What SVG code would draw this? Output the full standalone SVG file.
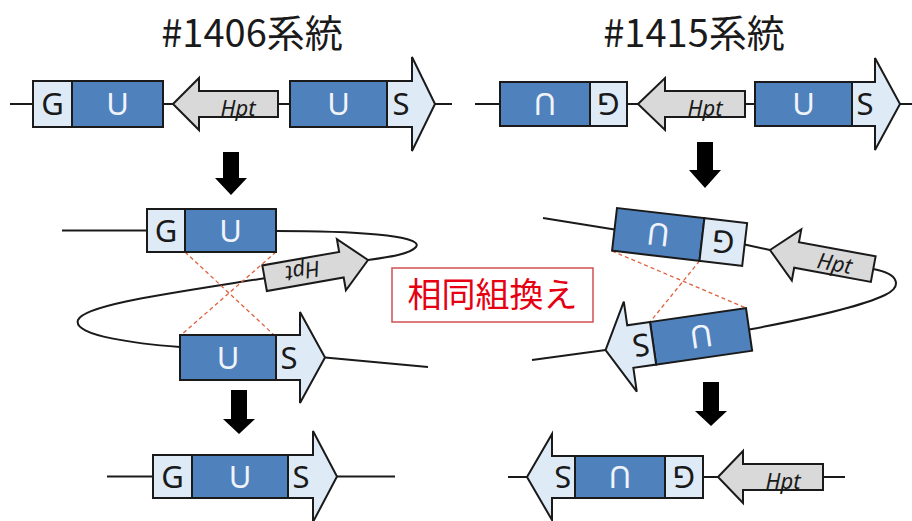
<svg xmlns="http://www.w3.org/2000/svg" width="912" height="521" viewBox="0 0 912 521">
<style>
.u{fill:#4f81bd;stroke:#1a1a1a;stroke-width:2}
.lb{fill:#deebf7;stroke:#1a1a1a;stroke-width:2}
.hp{fill:#d9d9d9;stroke:#1a1a1a;stroke-width:2}
.ln{fill:none;stroke:#1a1a1a;stroke-width:2}
.da{fill:none;stroke:#e0603c;stroke-width:1.3;stroke-dasharray:4 3}
.ar{fill:#000}
.tw{font-family:"Noto Sans","Liberation Sans",sans-serif;font-size:31px;fill:#f0f4fa;text-anchor:middle}
.tk{font-family:"Noto Sans","Liberation Sans",sans-serif;font-size:31px;fill:#1a1a1a;text-anchor:middle}
.th{font-family:"Noto Sans","Liberation Sans",sans-serif;font-size:22px;font-style:italic;fill:#1a1a1a;text-anchor:middle}
.tt{font-family:"Noto Sans CJK JP","Noto Sans",sans-serif;font-size:38px;fill:#1a1a1a;text-anchor:middle}
.tr{font-family:"Noto Sans CJK JP",sans-serif;font-size:34px;fill:#e60012;text-anchor:middle}
</style>

<g id="connectors">
  <line class="ln" x1="10" y1="104" x2="33" y2="104"/>
  <line class="ln" x1="163" y1="104" x2="173" y2="104"/>
  <line class="ln" x1="278" y1="104" x2="290" y2="104"/>
  <line class="ln" x1="435" y1="104" x2="452" y2="104"/>
  <line class="ln" x1="475" y1="104" x2="500" y2="104"/>
  <line class="ln" x1="627" y1="104" x2="638" y2="104"/>
  <line class="ln" x1="745" y1="104" x2="755" y2="104"/>
  <line class="ln" x1="900" y1="104" x2="912" y2="104"/>
  <line class="ln" x1="62" y1="230.5" x2="147" y2="230.5"/>
  <path class="ln" d="M276,231 C350,231 425,235 416,247 C410,254 390,257 368,260"/>
  <path class="ln" d="M264.6,278.2 C180,292 85,304 78,320 C72,336 140,344 180,347"/>
  <line class="ln" x1="325" y1="357.5" x2="428" y2="367"/>
  <line class="ln" x1="543" y1="218" x2="614.5" y2="229.4"/>
  <line class="ln" x1="744.6" y1="244.4" x2="770" y2="250"/>
  <path class="ln" d="M873.2,269.1 C900,274 902,287 885,295 C860,307 800,320 749,329.5"/>
  <line class="ln" x1="605.6" y1="350.1" x2="532" y2="360"/>
  <line class="da" x1="185" y1="252" x2="274" y2="335"/>
  <line class="da" x1="276" y1="252" x2="181" y2="335"/>
  <line class="da" x1="612" y1="251" x2="746" y2="308"/>
  <line class="da" x1="699.5" y1="261" x2="650" y2="322"/>
  <line class="ln" x1="107" y1="476.5" x2="153" y2="476.5"/>
  <line class="ln" x1="337" y1="476.5" x2="395" y2="476.5"/>
  <line class="ln" x1="508" y1="477" x2="527" y2="477"/>
  <line class="ln" x1="703" y1="477" x2="718" y2="477"/>
  <line class="ln" x1="823" y1="477" x2="845" y2="477"/>
</g>

<g id="flow-arrows">
  <polygon class="ar" points="223,152 239,152 239,178 247,178 231,195 215,178 223,178"/>
  <polygon class="ar" points="697,142 713,142 713,170 721,170 705,188 689,170 697,170"/>
  <polygon class="ar" points="231,390 247,390 247,419 255,419 239,434 223,419 231,419"/>
  <polygon class="ar" points="703,382 719,382 719,411 727,411 711,426 695,411 703,411"/>
</g>

<g id="title-1406"><text class="tt" x="252" y="47">#1406系統</text></g>
<g id="title-1415"><text class="tt" x="694" y="47">#1415系統</text></g>

<g id="tl-G"><rect class="lb" x="33" y="81" width="39" height="46"/><text class="tk" x="52.5" y="115">G</text></g>
<g id="tl-U1"><rect class="u" x="72" y="81" width="91" height="46"/><text class="tw" x="117.5" y="115">U</text></g>
<g id="tl-Hpt"><polygon class="hp" points="173,104 199,78 199,91 278,91 278,117 199,117 199,130"/><text class="th" x="238" y="116">Hpt</text></g>
<g id="tl-U2"><rect class="u" x="290" y="81" width="97" height="46"/><text class="tw" x="338.5" y="115">U</text></g>
<g id="tl-S"><polygon class="lb" points="387,81 412,81 412,57 435,104 412,151 412,127 387,127"/><text class="tk" x="401" y="115">S</text></g>

<g id="tr-U1"><rect class="u" x="500" y="82" width="90" height="44"/><text class="tw" x="545" y="115" transform="rotate(180,545,104)">U</text></g>
<g id="tr-G"><rect class="lb" x="590" y="82" width="37" height="44"/><text class="tk" x="608.5" y="115" transform="rotate(180,608.5,104)">G</text></g>
<g id="tr-Hpt"><polygon class="hp" points="638,104 665,78 665,91 745,91 745,117 665,117 665,130"/><text class="th" x="705" y="116">Hpt</text></g>
<g id="tr-U2"><rect class="u" x="755" y="82" width="97" height="44"/><text class="tw" x="803.5" y="115">U</text></g>
<g id="tr-S"><polygon class="lb" points="852,82 875,82 875,58 900,104 875,150 875,126 852,126"/><text class="tk" x="865" y="115">S</text></g>

<g id="ml-G"><rect class="lb" x="147" y="209" width="38" height="43"/><text class="tk" x="166" y="241.5">G</text></g>
<g id="ml-U1"><rect class="u" x="185" y="209" width="91" height="43"/><text class="tw" x="230.5" y="241.5">U</text></g>
<g id="ml-Hpt" transform="translate(368,260) rotate(-10)"><polygon class="hp" points="0,0 -27,-26 -27,-13 -105,-13 -105,13 -27,13 -27,26"/><text class="th" x="-66" y="8" transform="rotate(180,-66,0)">Hpt</text></g>
<g id="ml-U2"><rect class="u" x="180" y="335" width="96" height="45"/><text class="tw" x="228" y="368.5">U</text></g>
<g id="ml-S"><polygon class="lb" points="276,335 300,335 300,312 325,357.5 300,403 300,380 276,380"/><text class="tk" x="289" y="368.5">S</text></g>

<g id="mr-top" transform="translate(617,208) rotate(6.6)">
  <rect class="u" x="0" y="0" width="88" height="43"/><text class="tw" x="44" y="32.5" transform="rotate(180,44,21.5)">U</text>
  <rect class="lb" x="88" y="0" width="43" height="43"/><text class="tk" x="109.5" y="32.5" transform="rotate(180,109.5,21.5)">G</text>
</g>
<g id="mr-Hpt" transform="translate(770,250) rotate(10.5)"><polygon class="hp" points="0,0 27,-26 27,-13 105,-13 105,13 27,13 27,26"/><text class="th" x="66" y="9">Hpt</text></g>
<g id="mr-bottom" transform="translate(650,322) rotate(-8.2)">
  <rect class="u" x="0" y="0" width="97" height="43"/><text class="tw" x="48.5" y="32.5" transform="rotate(180,48.5,21.5)">U</text>
  <polygon class="lb" points="0,0 -23,0 -23,-24 -48,21.5 -23,67 -23,43 0,43"/><text class="tk" x="-12" y="32.5" transform="rotate(180,-12,21.5)">S</text>
</g>

<g id="label-recomb"><rect x="392" y="268" width="201" height="54" fill="#fff" stroke="#d05050" stroke-width="1.5"/><text class="tr" x="492.5" y="307">相同組換え</text></g>

<g id="bl-G"><rect class="lb" x="153" y="455" width="39" height="43"/><text class="tk" x="172.5" y="487.5">G</text></g>
<g id="bl-U"><rect class="u" x="192" y="455" width="96" height="43"/><text class="tw" x="240" y="487.5">U</text></g>
<g id="bl-S"><polygon class="lb" points="288,455 313,455 313,431 337,476.5 313,522 313,498 288,498"/><text class="tk" x="301" y="487.5">S</text></g>

<g id="br-S"><polygon class="lb" points="575,456 552,456 552,434 527,477 552,520 552,498 575,498"/><text class="tk" x="563" y="488" transform="rotate(180,563,477)">S</text></g>
<g id="br-U"><rect class="u" x="575" y="456" width="90" height="42"/><text class="tw" x="620" y="488" transform="rotate(180,620,477)">U</text></g>
<g id="br-G"><rect class="lb" x="665" y="456" width="38" height="42"/><text class="tk" x="684" y="488" transform="rotate(180,684,477)">G</text></g>
<g id="br-Hpt"><polygon class="hp" points="718,477 743,451 743,464 823,464 823,490 743,490 743,503"/><text class="th" x="783" y="489">Hpt</text></g>
</svg>
